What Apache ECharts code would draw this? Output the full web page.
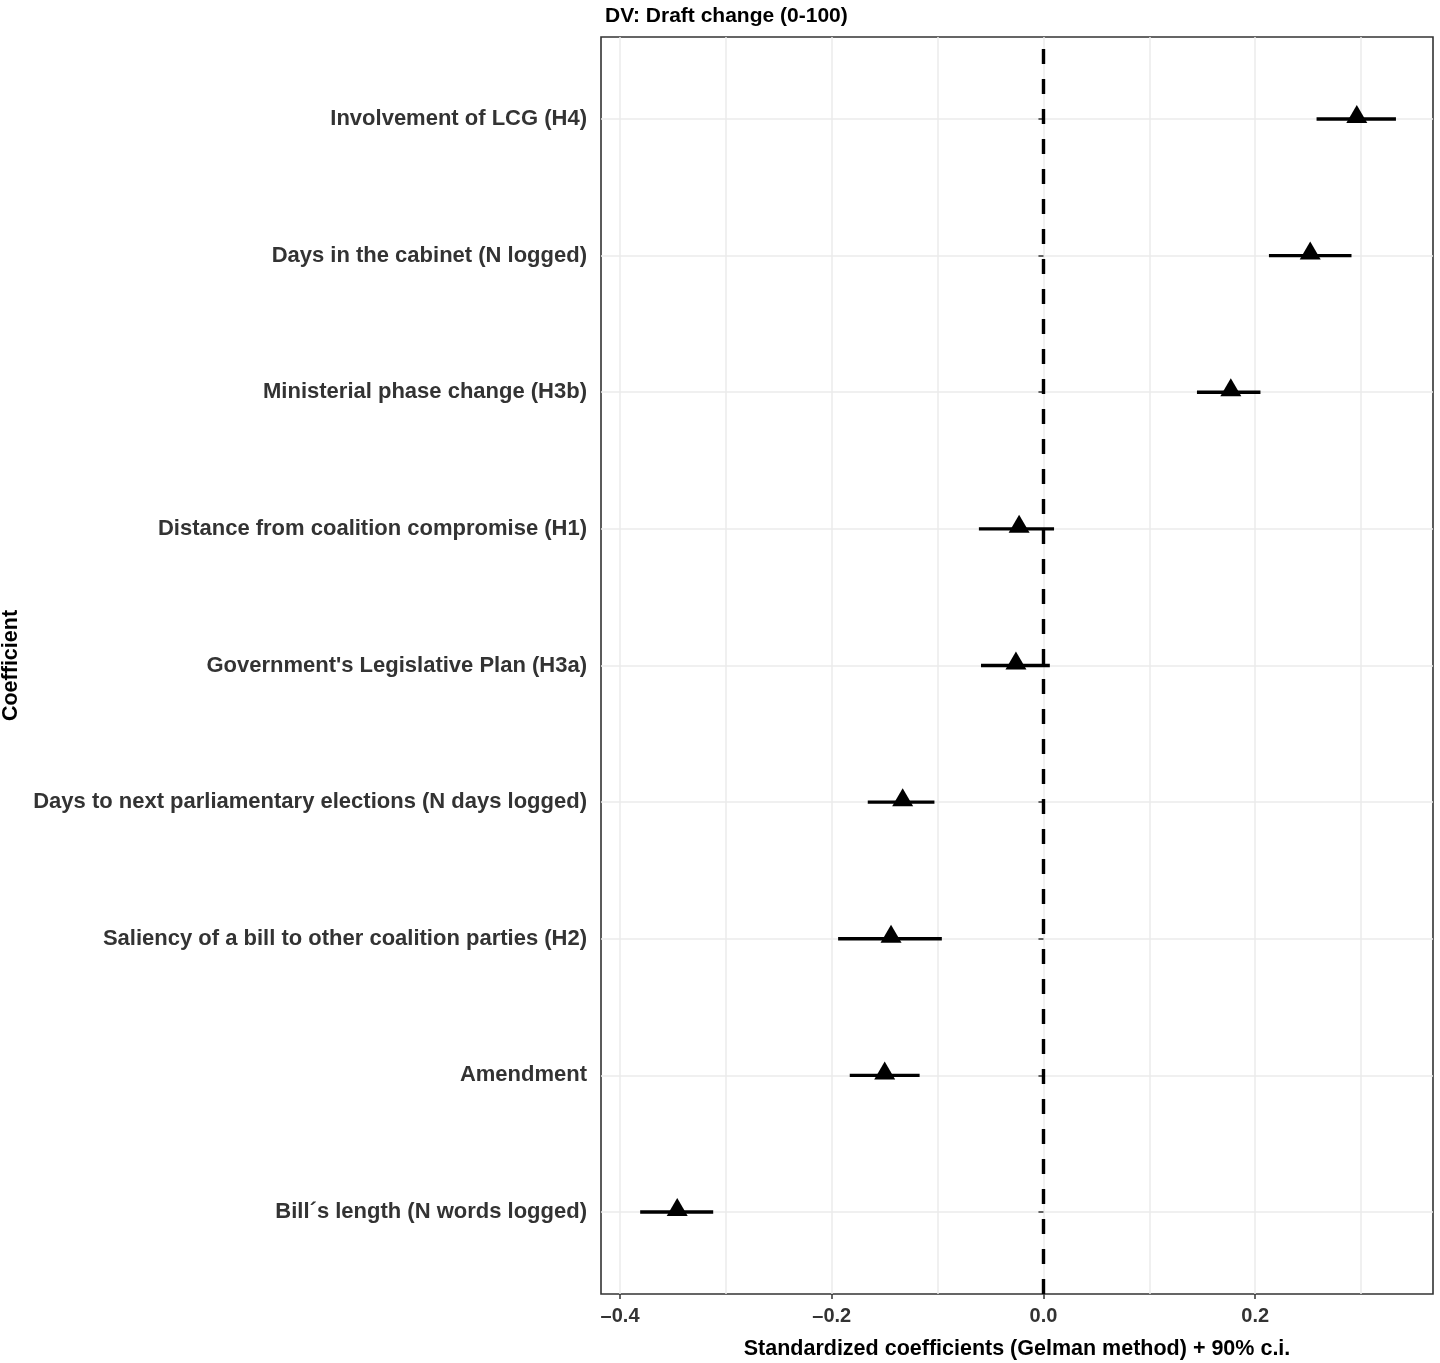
<!DOCTYPE html>
<html>
<head>
<meta charset="utf-8">
<script src="https://cdn.jsdelivr.net/npm/echarts@6/dist/echarts.min.js"></script>
<style>
html,body{margin:0;padding:0;background:#fff;}
#chart{width:1440px;height:1363px;}
</style>
</head>
<body>
<div id="chart"></div>
<script>
// Coefficient labels, listed top to bottom as in the figure
var categories = [
  "Involvement of LCG (H4)",
  "Days in the cabinet (N logged)",
  "Ministerial phase change (H3b)",
  "Distance from coalition compromise (H1)",
  "Government's Legislative Plan (H3a)",
  "Days to next parliamentary elections (N days logged)",
  "Saliency of a bill to other coalition parties (H2)",
  "Amendment",
  "Bill\u00b4s length (N words logged)"
];
var estimate = [0.296, 0.252, 0.177, -0.023, -0.026, -0.133, -0.144, -0.150, -0.346];
var lower    = [0.258, 0.213, 0.145, -0.061, -0.059, -0.166, -0.194, -0.183, -0.381];
var upper    = [0.333, 0.291, 0.205, 0.010, 0.006, -0.103, -0.096, -0.117, -0.312];
var xMajorTicks = [-0.4, -0.2, 0.0, 0.2];
var xMinorGrid = [-0.4, -0.3, -0.2, -0.1, 0.0, 0.1, 0.2, 0.3];
var titleText = "DV: Draft change (0-100)";
var xTitle = "Standardized coefficients (Gelman method) + 90% c.i.";
var yTitle = "Coefficient";

var n = categories.length;
var yPos = categories.map(function (c, i) { return n - i; });
var errData = categories.map(function (c, i) { return [lower[i], upper[i], yPos[i]]; });
var ptData = categories.map(function (c, i) { return [estimate[i], yPos[i]]; });

var FONT = "'Liberation Sans', Arial, sans-serif";
var xMin = -0.418, xMax = 0.368;

var chart = echarts.init(document.getElementById('chart'), null, {renderer: 'canvas'});
chart.setOption({
  animation: false,
  backgroundColor: '#ffffff',
  title: {
    text: titleText,
    left: 600, top: 1,
    textStyle: {fontFamily: FONT, fontSize: 21, fontWeight: 'bold', color: '#000'}
  },
  grid: {
    left: 601, right: 7, top: 37, bottom: 69,
    show: true, borderColor: '#333', borderWidth: 1.6, backgroundColor: 'transparent',
    containLabel: false, outerBoundsMode: 'none'
  },
  xAxis: [
    {
      type: 'value', min: xMin, max: xMax, position: 'bottom',
      name: xTitle, nameLocation: 'middle', nameGap: 44,
      nameTextStyle: {fontFamily: FONT, fontSize: 21.5, fontWeight: 'bold', color: '#000'},
      axisLine: {show: false},
      axisTick: {show: true, length: 5, lineStyle: {color: '#333', width: 1.5}, customValues: xMajorTicks},
      axisLabel: {
        customValues: xMajorTicks, margin: 12,
        fontFamily: FONT, fontSize: 20, fontWeight: 'bold', color: '#333',
        formatter: function (v) { return (v < 0 ? '\u2013' : '') + Math.abs(v).toFixed(1); }
      },
      splitLine: {show: false}
    },
    {
      type: 'value', min: xMin, max: xMax, position: 'bottom',
      axisLine: {show: false},
      axisTick: {show: false, customValues: xMinorGrid},
      axisLabel: {show: false, customValues: xMinorGrid},
      splitLine: {show: true, lineStyle: {color: '#ebebeb', width: 1.5}}
    }
  ],
  yAxis: {
    type: 'value', min: 0.4, max: n + 0.6,
    name: yTitle, nameLocation: 'middle', nameGap: 570, nameRotate: 90,
    nameTextStyle: {fontFamily: FONT, fontSize: 21.5, fontWeight: 'bold', color: '#000'},
    axisLine: {show: false},
    axisTick: {show: true, length: 5, lineStyle: {color: '#333', width: 1.5}, customValues: yPos},
    axisLabel: {
      customValues: yPos, margin: 14,
      fontFamily: FONT, fontSize: 22, fontWeight: 'bold', color: '#333',
      formatter: function (v) { return categories[n - Math.round(v)]; }
    },
    splitLine: {show: true, lineStyle: {color: '#ebebeb', width: 1.5}}
  },
  series: [
    {
      type: 'custom',
      xAxisIndex: 0,
      data: errData,
      encode: {x: [0, 1], y: 2},
      z: 3,
      renderItem: function (params, api) {
        var p1 = api.coord([api.value(0), api.value(2)]);
        var p2 = api.coord([api.value(1), api.value(2)]);
        return {
          type: 'line',
          shape: {x1: p1[0], y1: p1[1], x2: p2[0], y2: p2[1]},
          style: {stroke: '#000', lineWidth: 3.4}
        };
      }
    },
    {
      type: 'scatter',
      xAxisIndex: 0,
      data: ptData,
      symbol: 'triangle',
      symbolSize: [21, 18],
      symbolOffset: [0, -5],
      itemStyle: {color: '#000', opacity: 1},
      z: 4,
      markLine: {
        silent: true,
        symbol: 'none',
        label: {show: false},
        lineStyle: {color: '#000', width: 3.4, type: [15, 15], opacity: 1},
        data: [{xAxis: 0}]
      }
    }
  ]
});
</script>
</body>
</html>
